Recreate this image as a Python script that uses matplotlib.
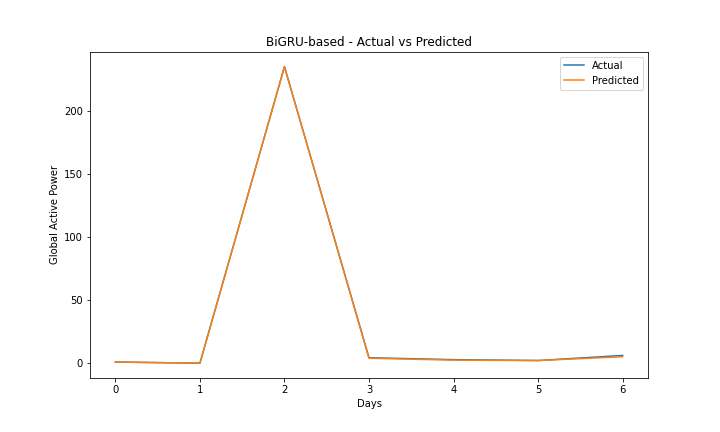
import numpy as np
import matplotlib.pyplot as plt

days = np.arange(7)
actual = [1.0, 0.1, 235.0, 4.4, 2.9, 2.2, 6.2]
predicted = [1.0, 0.1, 235.0, 4.0, 2.5, 2.2, 5.2]

plt.figure(figsize=(10, 6), dpi=72)
plt.plot(days, actual, label='Actual')
plt.plot(days, predicted, label='Predicted')
plt.xlabel('Days')
plt.ylabel('Global Active Power')
plt.title('BiGRU-based - Actual vs Predicted')
plt.legend()
plt.subplots_adjust(bottom=0.125)
plt.savefig('out.png', dpi=72)
